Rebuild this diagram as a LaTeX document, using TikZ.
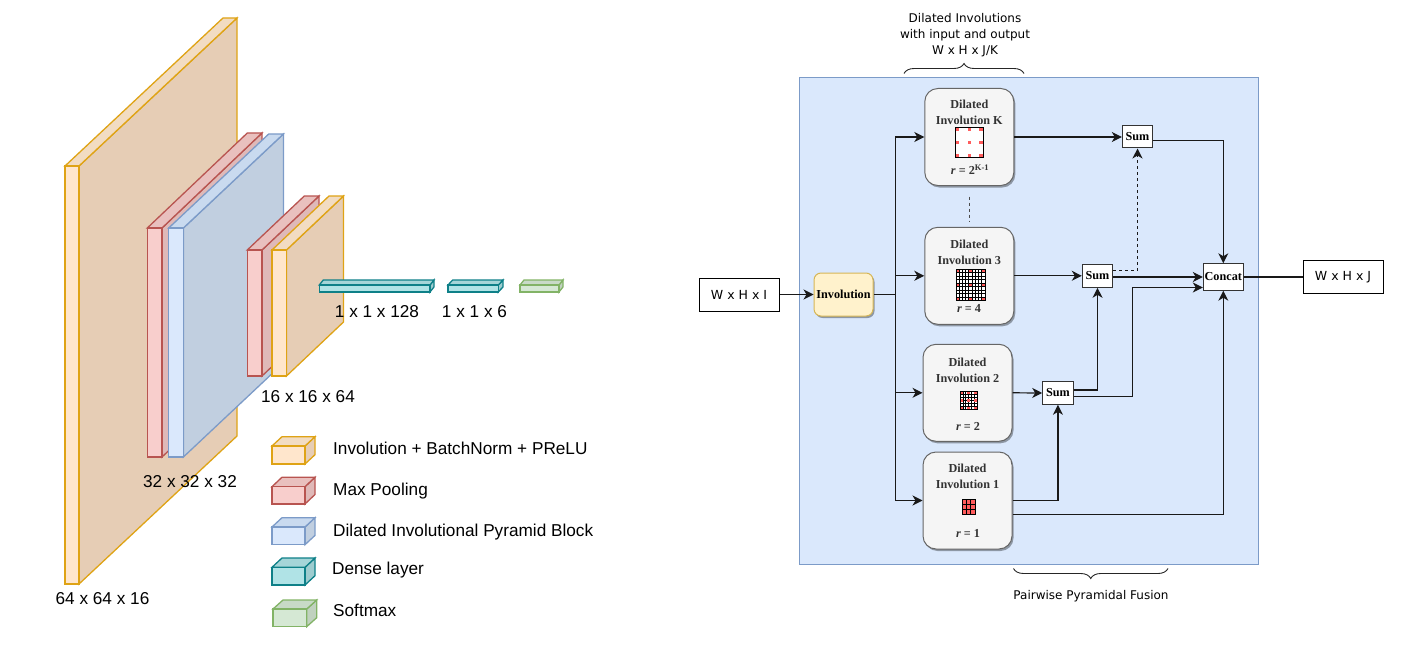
\documentclass[tikz,border=0pt]{standalone}
\usepackage{fontspec}
\setmainfont{Liberation Serif}
\setsansfont{Liberation Sans}
\newfontfamily\plainfont{DejaVu Sans}
\usetikzlibrary{arrows.meta,calc,shadows,decorations.pathreplacing}

\definecolor{yellowF}{HTML}{FFE6CC}
\definecolor{yellowS}{HTML}{E6CDB5}
\definecolor{yellowT}{HTML}{F2DCC2}
\definecolor{yellowL}{HTML}{DFA315}
\definecolor{redF}{HTML}{F8CECC}
\definecolor{redS}{HTML}{DFB9B8}
\definecolor{redT}{HTML}{E9C0BE}
\definecolor{redL}{HTML}{B85450}
\definecolor{blueF}{HTML}{DAE8FC}
\definecolor{blueS}{HTML}{C1CFE0}
\definecolor{blueT}{HTML}{C9DAEF}
\definecolor{blueL}{HTML}{7C9BC8}
\definecolor{tealF}{HTML}{B0E3E6}
\definecolor{tealS}{HTML}{9ECCCF}
\definecolor{tealT}{HTML}{A5D5D8}
\definecolor{tealL}{HTML}{0E8088}
\definecolor{greenF}{HTML}{D5E8D4}
\definecolor{greenS}{HTML}{C0D1BF}
\definecolor{greenT}{HTML}{C8DAC7}
\definecolor{greenL}{HTML}{82B366}
\definecolor{kernelred}{HTML}{FF5C5C}
\definecolor{invF}{HTML}{FFF2CC}
\definecolor{invL}{HTML}{D6B656}

% colour, x, y, w, h, dx, dy
\newcommand{\cuboid}[7]{
  \filldraw[#1S,draw=#1L,line width=1.3pt,line join=miter]
    (#2+#4,#3) -- ++(#6,-#7) -- ++(0,#5) -- ++(-#6,#7) -- cycle;
  \filldraw[#1T,draw=#1L,line width=1.3pt,line join=miter]
    (#2,#3) -- ++(#6,-#7) -- ++(#4,0) -- ++(-#6,#7) -- cycle;
  \filldraw[#1F,draw=#1L,line width=1.3pt] (#2,#3) rectangle ++(#4,#5);
}
% x, y, w, h, cells per side, line width, dot size, cell colour
\newcommand{\kernelgrid}[8]{
  \begin{scope}[shift={(#1,#2)}]
    \fill[#8] (0,0) rectangle (#3,#4);
    \foreach \k in {1,...,#5} {
      \draw[black,line width=#6] ({\k*#3/#5},0) -- ++(0,#4);
      \draw[black,line width=#6] (0,{\k*#4/#5}) -- ++(#3,0);
    }
    \foreach \i in {0,0.5,1}
      \foreach \j in {0,0.5,1}
        \fill[kernelred] ({\i*(#3-#7)},{\j*(#4-#7)}) rectangle ++(#7,#7);
    \draw[black,line width=1pt] (0,0) rectangle (#3,#4);
  \end{scope}
}

\begin{document}
\begin{tikzpicture}[x=1pt,y=-1pt,
    dimlabel/.style={font=\sffamily\fontsize{17.2}{20}\selectfont,inner sep=0pt,text height=12.4pt,text depth=0pt},
    legendlabel/.style={dimlabel,anchor=west},
    note/.style={font=\plainfont\fontsize{12}{16}\selectfont,align=center,inner sep=0pt},
    iobox/.style={draw,line width=1pt,fill=white,minimum width=80pt,minimum height=33pt,inner sep=0pt,
      font=\plainfont\fontsize{12.5}{14}\selectfont},
    dilbox/.style={draw=black!60,line width=1pt,fill=black!4,rounded corners=13pt,
      minimum width=89pt,minimum height=97pt,
      drop shadow={shadow xshift=1.5pt,shadow yshift=-2pt,fill=black,opacity=.35}},
    boxtext/.style={font=\bfseries\fontsize{12.2}{16}\selectfont,text=black!80,align=center,inner sep=0pt},
    opbox/.style={draw=black!80,line width=1pt,fill=white,inner sep=0pt,
      font=\bfseries\fontsize{12.2}{14}\selectfont,text=black},
    conn/.style={draw=black!90,line width=1.2pt,-{Stealth[length=10pt,width=10pt,inset=3pt]}},
    bracket/.style={draw=black!85,line width=.9pt,decorate}]
  \useasboundingbox (0,0) rectangle (1427,650);

  % network
  \cuboid{yellow}{65}{166}{14}{418}{158}{148}
  \cuboid{red}{147.3}{228}{14.7}{229}{100}{95}
  \cuboid{blue}{168.7}{228}{14.7}{229}{100}{94}
  \cuboid{red}{247.3}{250}{14.7}{126}{57}{54}
  \cuboid{yellow}{272}{250}{14.5}{126}{57}{54}
  \cuboid{teal}{319.3}{285}{110.7}{7}{4}{5}
  \cuboid{teal}{448}{285}{50.3}{7}{4.7}{5}
  \cuboid{green}{520}{285}{39}{7}{4}{5}

  \node[dimlabel] (size1) at (102.5,598) {64 x 64 x 16};
  \node[dimlabel] (size2) at (190,481) {32 x 32 x 32};
  \node[dimlabel] (size3) at (308,396.5) {16 x 16 x 64};
  \node[dimlabel] (size4) at (377,311.5) {1 x 1 x 128};
  \node[dimlabel] (size5) at (474.5,311.5) {1 x 1 x 6};

  % legend
  \cuboid{yellow}{272}{446}{33}{18}{10}{9.3}
  \cuboid{red}{272}{486.7}{33}{17.3}{10}{9.5}
  \cuboid{blue}{272}{527}{33}{17.7}{10}{9.3}
  \cuboid{teal}{272}{567.3}{33}{17.7}{10}{9.3}
  \cuboid{green}{273}{609}{33.7}{17.7}{10}{9}

  \node[legendlabel] (leg1) at (333,448) {Involution + BatchNorm + PReLU};
  \node[legendlabel] (leg2) at (333,489) {Max Pooling};
  \node[legendlabel] (leg3) at (333,530) {Dilated Involutional Pyramid Block};
  \node[legendlabel] (leg4) at (332,568) {Dense layer};
  \node[legendlabel] (leg5) at (333,610) {Softmax};

  % pyramid block
  \filldraw[blueF,draw=blueL,line width=1pt] (799,78) rectangle (1258,564);

  \node[iobox] (input) at (739,294.5) {W x H x I};
  \node[iobox] (output) at (1343,277) {W x H x J};
  \node[draw=invL,line width=1pt,fill=invF,rounded corners=7pt,
    minimum width=59pt,minimum height=43pt,inner sep=0pt,
    font=\bfseries\fontsize{12.2}{14}\selectfont,
    drop shadow={shadow xshift=1.5pt,shadow yshift=-2pt,fill=black,opacity=.35}] (inv) at (843.5,294.5) {Involution};

  \node[dilbox] (dilK) at (969.3,137) {};
  \node[dilbox] (dil3) at (969.3,275.8) {};
  \node[dilbox] (dil2) at (967.5,392.8) {};
  \node[dilbox] (dil1) at (967.5,500.5) {};

  \node[boxtext] (titleK) at (969.3,112) {Dilated\\Involution K};
  \node[boxtext] (title3) at (969.3,252) {Dilated\\Involution 3};
  \node[boxtext] (title2) at (967.5,370) {Dilated\\Involution 2};
  \node[boxtext] (title1) at (967.5,476.5) {Dilated\\Involution 1};
  \node[boxtext] (rateK) at (970,170) {\textit{r} = 2\textsuperscript{K-1}};
  \node[boxtext] (rate3) at (969,308) {\textit{r} = 4};
  \node[boxtext] (rate2) at (968,426) {\textit{r} = 2};
  \node[boxtext] (rate1) at (968,533) {\textit{r} = 1};

  \kernelgrid{955.7}{127.3}{27.3}{30.4}{1}{.5pt}{3.6}{white}
  \kernelgrid{956}{269.3}{29}{31.4}{9}{.9pt}{2.8}{white}
  \kernelgrid{960.3}{391.7}{16.7}{17.6}{6}{.8pt}{2.6}{white}
  \kernelgrid{962.3}{499.3}{12.7}{14.7}{3}{.7pt}{0}{kernelred}

  \node[opbox,minimum width=30.4pt,minimum height=22pt] (sumK) at (1137.5,137) {Sum};
  \node[opbox,minimum width=30.4pt,minimum height=23pt] (sum3) at (1097.5,275.8) {Sum};
  \node[opbox,minimum width=30.4pt,minimum height=22.6pt] (sum2) at (1057.9,393) {Sum};
  \node[opbox,minimum width=40pt,minimum height=26.4pt] (concat) at (1223.3,277) {Concat};

  \coordinate (trunk) at ($(inv.east)+(22,0)$);
  \coordinate (skip1) at ($(dil1.east)+(0,14.2)$);
  \coordinate (sum2up) at ($(sum2.east)+(0,-3)$);
  \coordinate (sum2low) at ($(sum2.east)+(0,3.3)$);
  \coordinate (sum3up) at ($(sum3.east)+(0,-5.5)$);
  \coordinate (sum3low) at (sum3.east |- concat.west);
  \coordinate (sumKlow) at ($(sumK.east)+(0,3.5)$);
  \coordinate (concatlow) at ($(concat.west)+(0,10.5)$);
  \coordinate (dotsup) at ($(dilK.south)+(0,10.5)$);
  \coordinate (dotslow) at ($(dil3.north)+(0,-5.5)$);

  \draw[conn] (input) -- (inv);
  \draw[conn] (inv.east) -- (trunk) |- (dilK.west);
  \draw[conn] (trunk) |- (dil3.west);
  \draw[conn] (trunk) |- (dil2.west);
  \draw[conn] (trunk) |- (dil1.west);
  \draw[conn] (dilK.east) -- (sumK.west);
  \draw[conn] (dil3.east) -- (sum3.west);
  \draw[conn] (dil2.east) -- (sum2.west);
  \draw[conn] (dil1.east) -| (sum2.south);
  \draw[conn] (skip1) -| (concat.south);
  \draw[conn] (sum2up) -| (sum3.south);
  \draw[conn] (sum2low) -| ($(concatlow)+(-70,0)$) -- (concatlow);
  \draw[conn] (sum3low) -- (concat.west);
  \draw[conn,dashed] (sum3up) -| (sumK.south);
  \draw[conn] (sumKlow) -| (concat.north);
  \draw[conn,-] (concat.east) -- (output.west);
  \draw[black!70,line width=1pt,dashed] (dotsup) -- (dotslow);

  % braces
  \coordinate (braceL) at (904,73.5);
  \coordinate (braceR) at (1024,73.5);
  \coordinate (fuseL) at (1013.5,568.5);
  \coordinate (fuseR) at (1168,568.5);
  \draw[bracket,decoration={brace,amplitude=10pt}] (braceL) -- (braceR);
  \draw[bracket,decoration={brace,amplitude=10pt,mirror}] (fuseL) -- (fuseR);
  \node[note] (topnote) at (965,35.5) {Dilated Involutions\\with input and output\\W x H x J/K};
  \node[note] (fusenote) at (1091,596.5) {Pairwise Pyramidal Fusion};
\end{tikzpicture}
\end{document}
